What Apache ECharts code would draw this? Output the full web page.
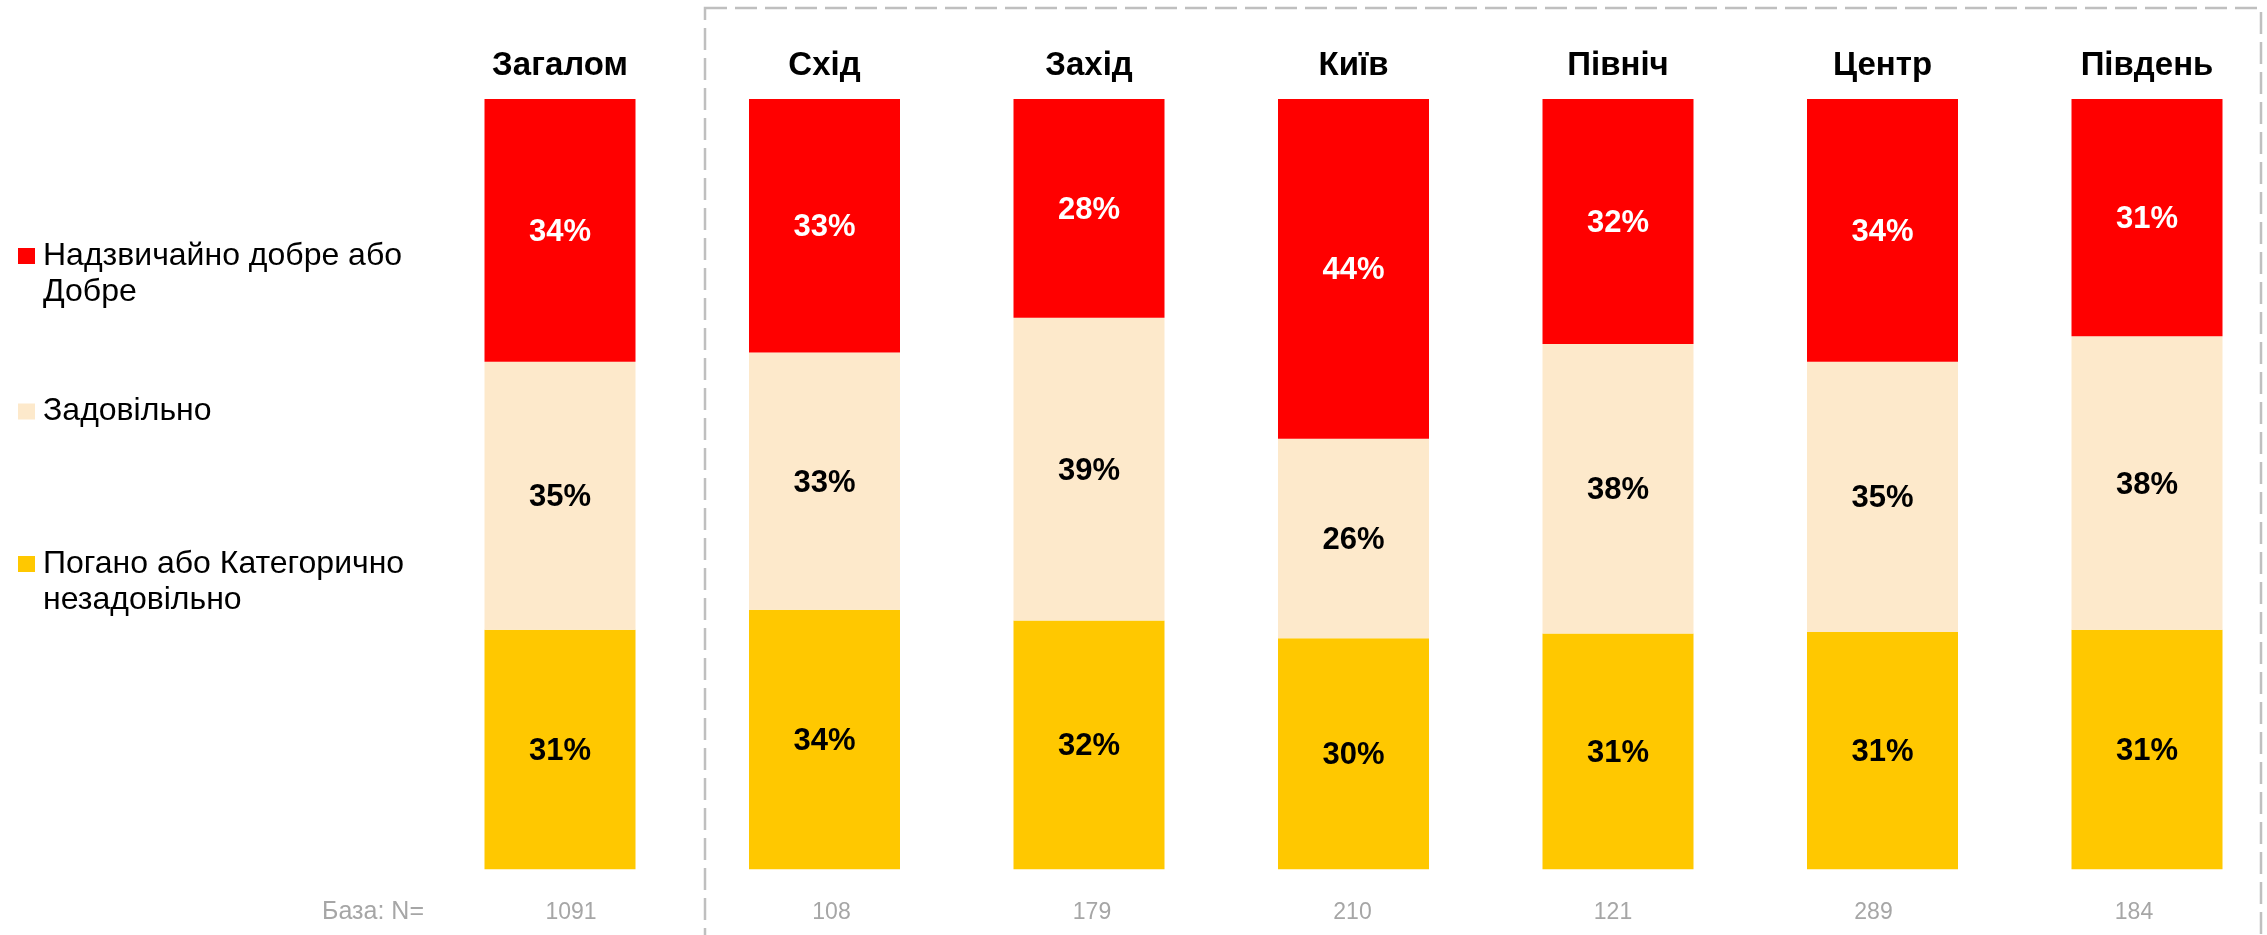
<!DOCTYPE html>
<html>
<head>
<meta charset="utf-8">
<script src="https://cdn.jsdelivr.net/npm/echarts@6/dist/echarts.min.js"></script>
<style>
html,body{margin:0;padding:0;background:#fff;}
#chart{width:2267px;height:935px;}
</style>
</head>
<body>
<div id="chart"></div>
<script>
const categories = ['Загалом', 'Схід', 'Захід', 'Київ', 'Північ', 'Центр', 'Південь'];
const baseN = ['1091', '108', '179', '210', '121', '289', '184'];
const baseTitle = 'База: N=';
const seriesNames = ['Надзвичайно добре або Добре', 'Задовільно', 'Погано або Категорично незадовільно'];
const legendLabels = ['\nНадзвичайно добре або\nДобре', 'Задовільно', '\nПогано або Категорично\nнезадовільно'];
const goodValues = [34.1, 32.9, 28.4, 44.1, 31.8, 34.1, 30.8];
const fairValues = [34.8, 33.4, 39.3, 25.9, 37.6, 35.1, 38.1];
const poorValues = [31.1, 33.7, 32.3, 30.0, 30.6, 30.8, 31.1];

const FONT = '"Liberation Sans", Arial, sans-serif';
const colors = ['#FF0000', '#FDE9CB', '#FFC800'];
const labelColors = ['#FFFFFF', '#000000', '#000000'];

const chart = echarts.init(document.getElementById('chart'), null, {renderer: 'canvas'});

function mkLegend(i, top) {
  return {
    left: 18, top: top, orient: 'vertical', padding: 0,
    itemWidth: 17, itemHeight: 16, icon: 'rect', selectedMode: false,
    data: [seriesNames[i]],
    formatter: () => legendLabels[i],
    textStyle: {
      fontFamily: FONT, fontSize: 32, color: '#000', lineHeight: 36,
      padding: [0, 0, 0, 3]
    }
  };
}

const valueSets = [goodValues, fairValues, poorValues];
// stack bottom to top: poor, fair, good
const order = [2, 1, 0];
const series = order.map(i => ({
  name: seriesNames[i],
  type: 'bar',
  stack: 'total',
  barWidth: 151,
  xAxisIndex: 0, yAxisIndex: 0,
  itemStyle: {color: colors[i]},
  label: {
    show: true, position: 'inside', offset: [0, 2],
    formatter: p => Math.round(p.value) + '%',
    fontFamily: FONT, fontSize: 31, fontWeight: 'bold', color: labelColors[i]
  },
  emphasis: {disabled: true},
  data: valueSets[i]
}));

chart.setOption({
  animation: false,
  backgroundColor: '#fff',
  legend: [mkLegend(0, 202), mkLegend(1, 393.5), mkLegend(2, 510)],
  grid: [
    {left: 427.75, width: 1851.5, top: 99, height: 770.3, outerBoundsMode: 'none', containLabel: false},
    {left: 440.75, width: 1823.5, top: 99, height: 770.3, outerBoundsMode: 'none', containLabel: false}
  ],
  xAxis: [
    {
      type: 'category', gridIndex: 0, position: 'top', data: categories,
      axisLine: {show: false}, axisTick: {show: false},
      axisLabel: {
        margin: 33, verticalAlign: 'middle', interval: 0,
        fontFamily: FONT, fontSize: 33, fontWeight: 'bold', color: '#000'
      }
    },
    {
      type: 'category', gridIndex: 1, position: 'bottom', data: baseN,
      axisLine: {show: false}, axisTick: {show: false},
      axisLabel: {
        margin: 43, verticalAlign: 'middle', interval: 0,
        fontFamily: FONT, fontSize: 23, color: '#A6A6A6'
      }
    }
  ],
  yAxis: [
    {type: 'value', gridIndex: 0, min: 0, max: 100, show: false},
    {type: 'value', gridIndex: 1, min: 0, max: 100, show: false}
  ],
  graphic: [
    {
      type: 'rect', silent: true,
      shape: {x: 705, y: 8, width: 1556, height: 1000},
      style: {fill: null, stroke: '#BFBFBF', lineWidth: 2.5, lineDash: [22, 8]}
    },
    {
      type: 'text', silent: true, x: 424, y: 912,
      style: {
        text: baseTitle, align: 'right', verticalAlign: 'middle',
        fontFamily: FONT, fontSize: 25, fill: '#A6A6A6'
      }
    }
  ],
  series: series
});
</script>
</body>
</html>
